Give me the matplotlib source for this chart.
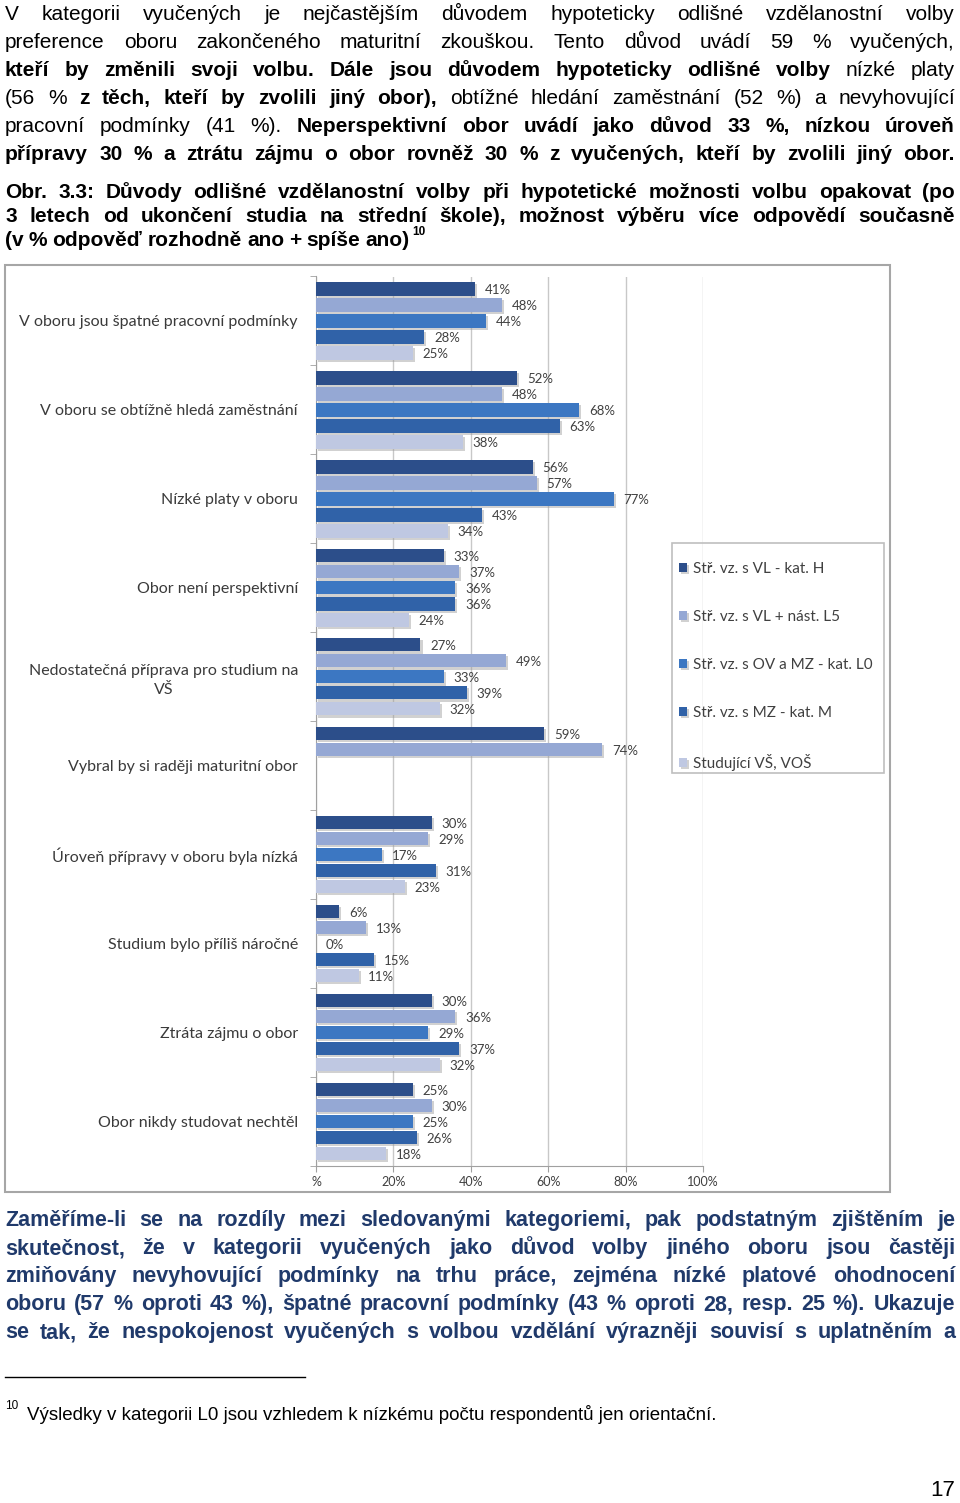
import numpy as np
import matplotlib
matplotlib.use("Agg")
import matplotlib.pyplot as plt
import matplotlib.patheffects as pe
from matplotlib.patches import Rectangle

W, H, DPI = 960, 1503, 100

# chart data, categories top to bottom
categories = [
    "V oboru jsou špatné pracovní podmínky",
    "V oboru se obtížně hledá zaměstnání",
    "Nízké platy v oboru",
    "Obor není perspektivní",
    "Nedostatečná příprava pro studium na\nVŠ",
    "Vybral by si raději maturitní obor",
    "Úroveň přípravy v oboru byla nízká",
    "Studium bylo příliš náročné",
    "Ztráta zájmu o obor",
    "Obor nikdy studovat nechtěl",
]
series_names = [
    "Stř. vz. s VL - kat. H",
    "Stř. vz. s VL + nást. L5",
    "Stř. vz. s OV a MZ - kat. L0",
    "Stř. vz. s MZ - kat. M",
    "Studující VŠ, VOŠ",
]
kat_H = [41, 52, 56, 33, 27, 59, 30, 6, 30, 25]
kat_L5 = [48, 48, 57, 37, 49, 74, 29, 13, 36, 30]
kat_L0 = [44, 68, 77, 36, 33, np.nan, 17, 0, 29, 25]
kat_M = [28, 63, 43, 36, 39, np.nan, 31, 15, 37, 26]
vs_vos = [25, 38, 34, 24, 32, np.nan, 23, 11, 32, 18]
series = [kat_H, kat_L5, kat_L0, kat_M, vs_vos]
colors = ["#2C4E8A", "#95A8D4", "#3C77C2", "#3062A8", "#BFC8E2"]

x_ticks = [0, 20, 40, 60, 80, 100]
x_labels = ["%", "20%", "40%", "60%", "80%", "100%"]

# page text
para1 = [
    [("V kategorii vyučených je nejčastějším důvodem hypoteticky odlišné vzdělanostní volby", False)],
    [("preference oboru zakončeného maturitní zkouškou. Tento důvod uvádí 59 % vyučených,", False)],
    [("kteří by změnili svoji volbu. Dále jsou důvodem hypoteticky odlišné volby", True), ("nízké platy", False)],
    [("(56 %", False), ("z těch, kteří by zvolili jiný obor),", True), ("obtížné hledání zaměstnání (52 %) a nevyhovující", False)],
    [("pracovní podmínky (41 %).", False), ("Neperspektivní obor uvádí jako důvod 33 %, nízkou úroveň", True)],
    [("přípravy 30 % a ztrátu zájmu o obor rovněž 30 % z vyučených, kteří by zvolili jiný obor.", True)],
]
caption = [
    "Obr. 3.3: Důvody odlišné vzdělanostní volby při hypotetické možnosti volbu opakovat (po",
    "3 letech od ukončení studia na střední škole), možnost výběru více odpovědí současně",
    "(v % odpověď rozhodně ano + spíše ano)",
]
para2 = [
    "Zaměříme-li se na rozdíly mezi sledovanými kategoriemi, pak podstatným zjištěním je",
    "skutečnost, že v kategorii vyučených jako důvod volby jiného oboru jsou častěji",
    "zmiňovány nevyhovující podmínky na trhu práce, zejména nízké platové ohodnocení",
    "oboru (57 % oproti 43 %), špatné pracovní podmínky (43 % oproti 28, resp. 25 %). Ukazuje",
    "se tak, že nespokojenost vyučených s volbou vzdělání výrazněji souvisí s uplatněním a",
]
footnote = "Výsledky v kategorii L0 jsou vzhledem k nízkému počtu respondentů jen orientační."

BODY = ["Liberation Sans Narrow", "Liberation Sans", "DejaVu Sans"]
CHART = ["Lato", "DejaVu Sans"]

fig = plt.figure(figsize=(W / DPI, H / DPI), dpi=DPI)
renderer = fig.canvas.get_renderer()


def put_line(segments, y, size, color="black", justify=True, x0=5, x1=955):
    # y is the baseline in pixels from the top; words are spread to the full width
    words = []
    for txt, bold in segments:
        for w in txt.split():
            words.append((w, bold))
    texts = [fig.text(0, 1 - y / H, w, fontsize=size, family=BODY, color=color,
                      fontweight="bold" if b else "normal", va="baseline")
             for w, b in words]
    widths = [t.get_window_extent(renderer).width for t in texts]
    gap = size * 0.25 * DPI / 72
    if justify and len(words) > 1:
        gap = (x1 - x0 - sum(widths)) / (len(words) - 1)
    x = x0
    for t, w in zip(texts, widths):
        t.set_x(x / W)
        x += w + gap
    return x - gap


for i, segs in enumerate(para1):
    put_line(segs, 20 + 28 * i, 15)

for i, line in enumerate(caption):
    end = put_line([(line, True)], 198 + 24 * i, 15, justify=(i < 2))
fig.text(end / W + 0.003, 1 - 232 / H, "10", fontsize=8.5, family=BODY,
         fontweight="bold", va="center")

for i, line in enumerate(para2):
    put_line([(line, True)], 1226 + 28 * i, 15.5, color="#203A6B")

# footnote separator, footnote and page number
fig.add_artist(plt.Line2D([5 / W, 305 / W], [1 - 1377 / H] * 2, color="black", lw=1))
fig.text(5 / W, 1 - 1406 / H, "10", fontsize=8.5, family=BODY, va="center")
fig.text(27 / W, 1 - 1414 / H, footnote, fontsize=13.5, family=BODY, va="center")
fig.text(955 / W, 1 - 1490 / H, "17", fontsize=16, family=BODY, va="center", ha="right")

# chart frame
fig.add_artist(Rectangle((5 / W, 1 - 1192 / H), 885 / W, 927 / H, transform=fig.transFigure,
                         fill=False, edgecolor="#A6A6A6", lw=1.5))

ax = fig.add_axes([316 / W, 1 - 1166 / H, 387 / W, 889.5 / H])
n = len(categories)
pos = np.arange(n)
bar_h = 0.15
step = 0.18
shadow = [pe.SimplePatchShadow(offset=(1.5, -1.5), shadow_rgbFace="#9A9A9A", alpha=0.45),
          pe.Normal()]
for j, (vals, col, name) in enumerate(zip(series, colors, series_names)):
    y = pos + (j - 2) * step
    bars = ax.barh(y, vals, height=bar_h, color=col, label=name, zorder=3)
    for b in bars:
        b.set_path_effects(shadow)
    for yy, v in zip(y, vals):
        if not np.isnan(v):
            ax.annotate(f"{int(v)}%", (v, yy), xytext=(7, -1), textcoords="offset points",
                        va="center", ha="left", fontsize=9.5, family=CHART,
                        color="#404040", annotation_clip=False, zorder=4)

ax.set_xlim(0, 100)
ax.set_ylim(n - 0.5, -0.5)
ax.set_xticks(x_ticks)
ax.set_xticklabels(x_labels, fontsize=9, family=CHART, color="#404040")
ax.set_yticks(pos)
ax.set_yticklabels(categories, fontsize=11.5, family=CHART, color="#3A3A3A",
                   ma="center", linespacing=1.45)
ax.set_yticks(np.arange(-0.5, n, 1), minor=True)
ax.tick_params(axis="y", which="major", length=0, pad=13)
ax.tick_params(axis="y", which="minor", length=4, color="#A0A0A0", direction="out")
ax.tick_params(axis="x", length=4, color="#A0A0A0", pad=3)
ax.grid(axis="x", color="#C8C8C8", lw=1, zorder=0)
for s in ["top", "right"]:
    ax.spines[s].set_visible(False)
for s in ["left", "bottom"]:
    ax.spines[s].set_color("#A0A0A0")

# legend box drawn separately so the padding can differ from the frame
fig.add_artist(Rectangle((672 / W, 1 - 773 / H), 212 / W, 230 / H, transform=fig.transFigure,
                         fill=False, edgecolor="#BFBFBF", lw=1.2))
handles, labels = ax.get_legend_handles_labels()
fig.legend(handles, labels, loc="upper left", bbox_to_anchor=(679 / W, 1 - 562 / H),
           prop={"family": CHART, "size": 11}, labelcolor="#404040",
           handlelength=0.55, handleheight=0.55, handletextpad=0.35,
           labelspacing=2.22, borderpad=0, borderaxespad=0, frameon=False)

fig.savefig("out.png", dpi=DPI)
